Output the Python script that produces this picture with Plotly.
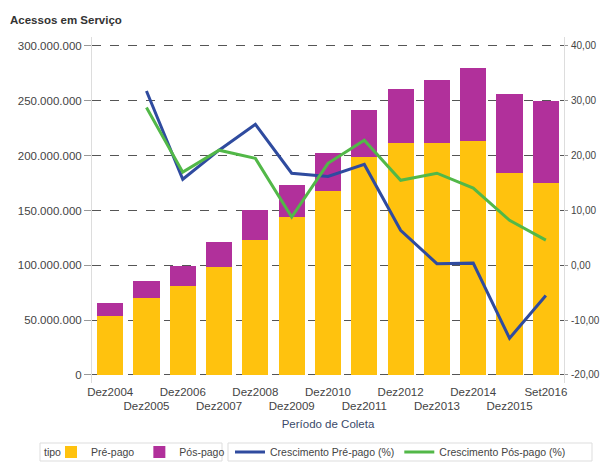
import plotly.graph_objects as go

periodos = ["Dez2004", "Dez2005", "Dez2006", "Dez2007", "Dez2008", "Dez2009", "Dez2010",
            "Dez2011", "Dez2012", "Dez2013", "Dez2014", "Dez2015", "Set2016"]
pre_pago = [53.8e6, 70.3e6, 81.2e6, 98.5e6, 123.0e6, 144.0e6, 168.0e6,
            199.0e6, 212.0e6, 212.0e6, 213.0e6, 184.0e6, 175.0e6]
total = [65.7e6, 85.8e6, 99.5e6, 121.0e6, 150.0e6, 173.0e6, 202.6e6,
         242.0e6, 261.0e6, 269.0e6, 280.0e6, 256.0e6, 250.0e6]
pos_pago = [t - p for t, p in zip(total, pre_pago)]
cresc_pre = [None, 31.8, 15.7, 21.0, 25.7, 16.8, 16.2, 18.4, 6.4, 0.3, 0.4, -13.3, -5.5]
cresc_pos = [None, 28.8, 17.0, 21.0, 19.5, 8.8, 18.6, 22.8, 15.5, 16.8, 14.1, 8.2, 4.6]

left_ticks = [0, 50e6, 100e6, 150e6, 200e6, 250e6, 300e6]
left_text = ["0", "50.000.000", "100.000.000", "150.000.000", "200.000.000", "250.000.000", "300.000.000"]
right_ticks = [-20, -10, 0, 10, 20, 30, 40]
right_text = ["-20,00", "-10,00", "0,00", "10,00", "20,00", "30,00", "40,00"]

tick_text_x = [p if i % 2 == 0 else "<br>" + p for i, p in enumerate(periodos)]

W, H = 601, 462
ML, MR, MT, MB = 92, 37, 37, 79
PW, PH = W - ML - MR, H - MT - MB


def px(x):
    return (x - ML) / PW


def py(y):
    return (H - MB - y) / PH


FONT = "Liberation Sans, Arial, sans-serif"
fig = go.Figure()
fig.add_bar(x=periodos, y=pre_pago, name="Pré-pago", marker_color="#FFC20E",
            marker_line_width=0, legend="legend")
fig.add_bar(x=periodos, y=pos_pago, name="Pós-pago", marker_color="#B1309B",
            marker_line_width=0, legend="legend")
fig.add_scatter(x=periodos, y=cresc_pre, name="Crescimento Pré-pago (%)", mode="lines",
                line=dict(color="#2F4B9F", width=3), yaxis="y2", legend="legend2")
fig.add_scatter(x=periodos, y=cresc_pos, name="Crescimento Pós-pago (%)", mode="lines",
                line=dict(color="#52B848", width=3), yaxis="y2", legend="legend2")

fig.update_layout(
    width=W, height=H,
    margin=dict(l=ML, r=MR, t=MT, b=MB, autoexpand=False),
    paper_bgcolor="white", plot_bgcolor="white",
    barmode="stack", bargap=0.28,
    font=dict(family=FONT, size=11, color="#444"),
    xaxis=dict(tickmode="array", tickvals=periodos, ticktext=tick_text_x, tickangle=0,
               automargin=False,
               showgrid=False, showline=False, ticks="", tickfont=dict(size=11.5, color="#444"),
               title=dict(text="Período de Coleta", font=dict(size=11.5, color="#3a4a6a"), standoff=8)),
    yaxis=dict(range=[-7.3e6, 308.2e6], tickmode="array", tickvals=left_ticks, ticktext=left_text,
               showgrid=True, gridcolor="#555", griddash="dash", gridwidth=1, automargin=False,
               zeroline=False, showline=True, linecolor="#ddd", ticks="outside",
               ticklen=7, tickcolor="#999", tickfont=dict(size=11.5, color="#444")),
    yaxis2=dict(range=[-21.46, 41.64], overlaying="y", side="right", tickmode="array",
                tickvals=right_ticks, ticktext=right_text, showgrid=False, zeroline=False,
                automargin=False, ticklabelstandoff=1,
                showline=True, linecolor="#ddd", ticks="outside", ticklen=3, tickcolor="#999",
                tickfont=dict(size=10, color="#444")),
    legend=dict(orientation="h", x=px(51), y=py(452), xanchor="left", yanchor="middle",
                font=dict(size=10.5), borderwidth=0, itemwidth=30, traceorder="normal",
                bgcolor="rgba(0,0,0,0)", tracegroupgap=0, valign="middle"),
    legend2=dict(orientation="h", x=px(230), y=py(452), xanchor="left", yanchor="middle",
                 font=dict(size=10.5), borderwidth=0, itemwidth=30, bgcolor="rgba(0,0,0,0)",
                 valign="middle"),
    showlegend=True,
)
# legend frames
fig.add_shape(type="rect", xref="paper", yref="paper", x0=px(40), x1=px(222),
              y0=py(461), y1=py(443), line=dict(color="#ddd", width=1))
fig.add_shape(type="rect", xref="paper", yref="paper", x0=px(228), x1=px(592),
              y0=py(461), y1=py(443), line=dict(color="#ddd", width=1))
fig.add_annotation(text="tipo", xref="paper", yref="paper", x=px(42), y=py(452),
                   xanchor="left", yanchor="middle", showarrow=False,
                   font=dict(size=10.5, color="#444"))
fig.add_annotation(text="<b>Acessos em Serviço</b>", xref="paper", yref="paper",
                   x=px(8), y=py(20), xanchor="left", yanchor="middle", showarrow=False,
                   font=dict(size=11.5, color="#333"))
fig.write_html("out.html")
